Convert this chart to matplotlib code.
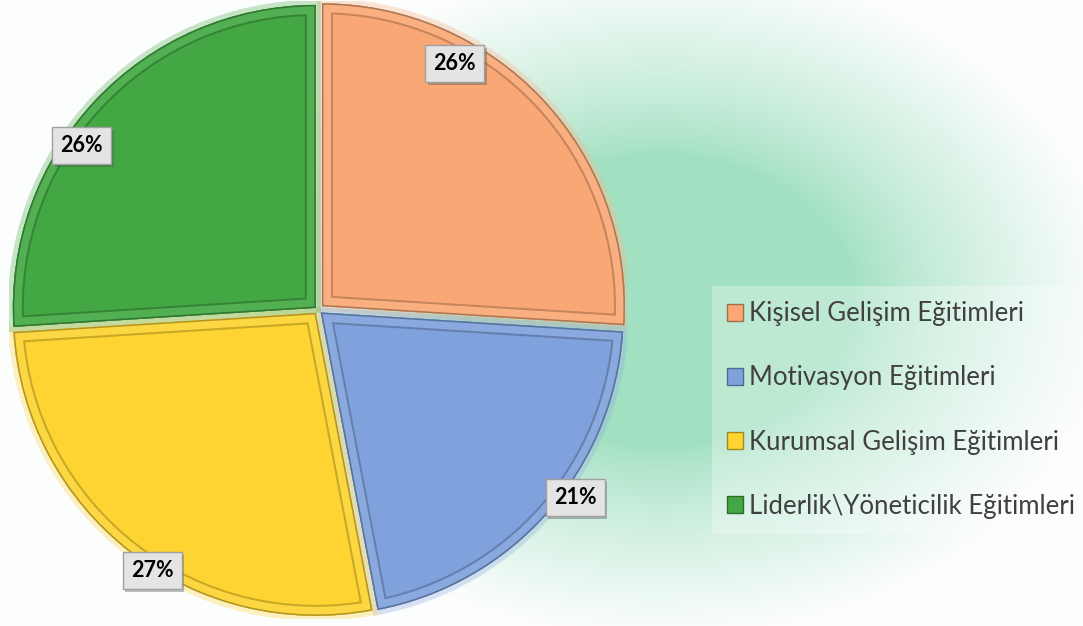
import numpy as np
import matplotlib
matplotlib.use("Agg")
import matplotlib.pyplot as plt
from matplotlib.patches import Wedge, Patch
from matplotlib import patheffects as pe
from matplotlib.colors import to_rgb

plt.rcParams['font.family'] = ['Lato', 'DejaVu Sans']

categories = ["Kişisel Gelişim Eğitimleri", "Motivasyon Eğitimleri",
              "Kurumsal Gelişim Eğitimleri", "Liderlik\\Yöneticilik Eğitimleri"]
shares = [26, 21, 27, 26]
pct_labels = ["26%", "21%", "27%", "26%"]
colors = ["#F9A875", "#7FA1DC", "#FDD431", "#43A843"]
explode = [0.018, 0.012, 0.012, 0.010]
# where each % box sits: fraction along the slice (clockwise) and radius
lab_frac = [0.31, 0.43, 0.445, 0.41]
lab_rad = [0.93, 1.05, 1.02, 0.95]

W, H, DPI = 1083, 626, 100
fig = plt.figure(figsize=(W / DPI, H / DPI), dpi=DPI)


def px(p):
    # pixels -> points
    return p * 72.0 / DPI


def shade(c, k):
    c = np.array(to_rgb(c))
    return tuple(np.clip(c * k, 0, 1))


def tint(c, k):
    c = np.array(to_rgb(c))
    return tuple(c + (1 - c) * k)


# soft green glow in the background
bg = fig.add_axes([0, 0, 1, 1], zorder=-10)
yy, xx = np.mgrid[0:H, 0:W]
d = np.sqrt(((xx - 660) / 430.0) ** 2 + ((yy - 300) / 320.0) ** 2)
t = np.clip((d - 0.45) / 0.6, 0, 1) ** 0.8
green = np.array(to_rgb("#A1E0C1"))
white = np.array([0.99, 0.995, 0.995])
img = green * (1 - t[..., None]) + white * t[..., None]
bg.imshow(img, extent=[0, W, H, 0], aspect='auto')
bg.axis('off')

# pie
R = 303
lim = 1.02
half = R * lim
ax = fig.add_axes([(318 - half) / W, (H - 310 - half) / H, 2 * half / W, 2 * half / H])
wedges, _ = ax.pie(shares, colors=colors, startangle=90, counterclock=False,
                   explode=explode, radius=1,
                   wedgeprops=dict(linewidth=0, zorder=1))
ax.set_xlim(-lim, lim)
ax.set_ylim(-lim, lim)
ax.axis('off')

for w, c, fr, rr, lab in zip(wedges, colors, lab_frac, lab_rad, pct_labels):
    dark = shade(c, 0.62)
    glow = Wedge(w.center, w.r, w.theta1, w.theta2, fill=False,
                 edgecolor=tint(c, 0.15), lw=px(10), alpha=0.35, zorder=0.5)
    ax.add_patch(glow)
    for lw, col, a, z in [(22, dark, 0.55, 2), (18, tint(c, 0.08), 1, 3), (3, dark, 0.8, 4)]:
        p = Wedge(w.center, w.r, w.theta1, w.theta2, fill=False,
                  edgecolor=col, lw=px(lw), alpha=a, zorder=z)
        ax.add_patch(p)
        p.set_clip_path(w)

    ang = np.deg2rad(w.theta2 - fr * (w.theta2 - w.theta1))
    txt = ax.text(rr * np.cos(ang), rr * np.sin(ang), lab, ha='center', va='center',
                  fontsize=15.5, fontweight='bold', color='black', zorder=10,
                  bbox=dict(boxstyle='square,pad=0.38', fc='#E4E4E4', ec='#A0A0A0', lw=1))
    txt.get_bbox_patch().set_path_effects(
        [pe.SimplePatchShadow(offset=(2, -2), alpha=0.35), pe.Normal()])

handles = [Patch(facecolor=c, edgecolor=shade(c, 0.65), lw=1) for c in colors]
leg = fig.legend(handles, categories, loc='center left',
                 bbox_to_anchor=(712 / W, 1 - 410 / H), fontsize=18.5,
                 labelspacing=1.52, handlelength=0.6, handleheight=0.6,
                 handletextpad=0.25, borderpad=0.6, borderaxespad=0,
                 frameon=True, fancybox=False,
                 facecolor='white', framealpha=0.3, edgecolor='none')
for tx in leg.get_texts():
    tx.set_color('#404040')

fig.savefig("out.png", dpi=DPI)
